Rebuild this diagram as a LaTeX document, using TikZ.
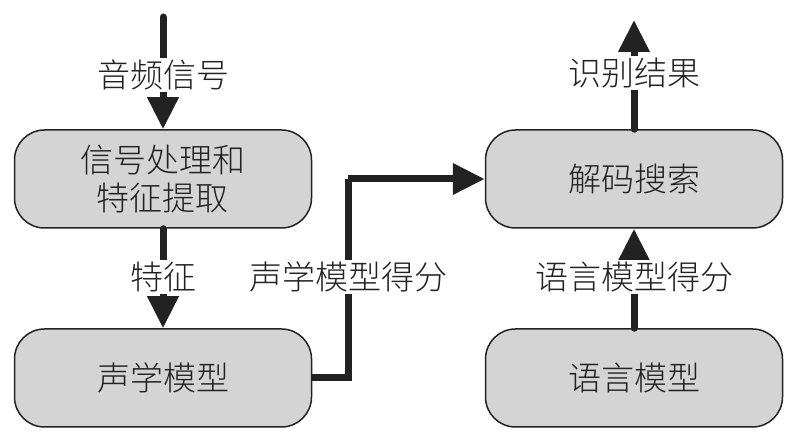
\documentclass[tikz,border=0pt]{standalone}
\usepackage{fontspec}
\newfontfamily\cjk{Noto Sans CJK SC Light}
\usetikzlibrary{arrows.meta}
\definecolor{boxfill}{HTML}{D4D4D4}
\definecolor{ink}{HTML}{222222}
\begin{document}
\begin{tikzpicture}[x=1pt,y=-1pt,
  box/.style={draw=ink, line width=1.5pt, fill=boxfill, rounded corners=30pt,
    minimum width=297pt, minimum height=98pt, align=center,
    font=\cjk\fontsize{33}{38}\selectfont, text=ink},
  conn/.style={draw=ink, line width=7pt, -{Triangle[width=30pt,length=32pt]}, line cap=round},
  plain/.style={draw=ink, line width=7pt, line cap=round},
  lab/.style={fill=white, inner sep=2pt, font=\cjk\fontsize{33}{38}\selectfont, text=ink}]
\useasboundingbox (0,0) rectangle (796,443);
\node[box] (sig) at (163,179) {信号处理和\\特征提取};
\node[box] (am) at (163,378) {声学模型};
\node[box] (dec) at (634,179) {解码搜索};
\node[box] (lm) at (634,378) {语言模型};
\coordinate (in) at (163,17);
\coordinate (out) at (634,20);
\coordinate (c1) at (348,378);
\coordinate (c2) at (348,179);
\draw[conn] (in) -- (sig.north);
\node[lab] (l1) at (163,75) {音频信号};
\draw[conn] (sig.south) -- (am.north);
\node[lab] (l2) at (163,277) {特征};
\draw[plain, line cap=butt] (am.east) -- (c1) -- (c2);
\draw[conn, line cap=butt] (c2) -- (dec.west);
\node[lab] (l3) at (348,277) {声学模型得分};
\draw[conn] (lm.north) -- (dec.south);
\node[lab] (l4) at (634,277) {语言模型得分};
\draw[conn] (dec.north) -- (out);
\node[lab] (l5) at (634,73) {识别结果};
\end{tikzpicture}
\end{document}
